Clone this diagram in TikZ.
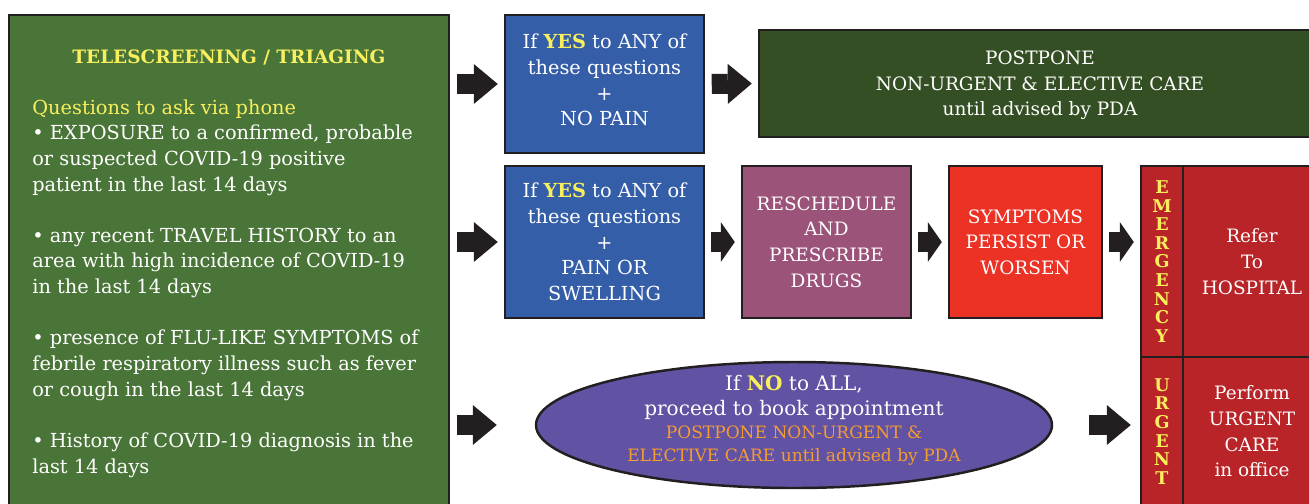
\documentclass[tikz,border=0pt]{standalone}
\usepackage{fontspec}
\setmainfont{DejaVu Serif}
\usepackage{xcolor}
\usepackage{tikz}
\usetikzlibrary{shapes,arrows,positioning,calc,arrows.meta}

\definecolor{screengreen}{HTML}{4A7538}
\definecolor{titleyellow}{HTML}{F8EF5E}
\definecolor{yesblue}{HTML}{355EA8}
\definecolor{postgreen}{HTML}{344F23}
\definecolor{reschpurple}{HTML}{9C5379}
\definecolor{persistred}{HTML}{EC3125}
\definecolor{caredred}{HTML}{B82427}
\definecolor{bookviolet}{HTML}{6252A3}
\definecolor{noteorange}{HTML}{F39C32}
\definecolor{linegray}{HTML}{231F20}

\tikzstyle{box} = [rectangle, draw=linegray, line width=1.4pt, text=white, align=center, inner sep=0pt]
\tikzstyle{bigarrow} = [draw=linegray, line width=0.4cm, shorten <=0.13cm, shorten >=0.12cm, -{Triangle[length=0.48cm, width=0.8cm, line width=0pt]}]
\tikzstyle{smallarrow} = [draw=linegray, line width=0.4cm, shorten <=0.12cm, shorten >=0.12cm, -{Triangle[length=0.28cm, width=0.8cm, line width=0pt]}]
\tikzstyle{vletters} = [font=\fontsize{10}{10.6}\selectfont\bfseries, text=titleyellow, align=center, inner sep=0pt]

\begin{document}
\begin{tikzpicture}[font=\fontsize{10.5}{14.6}\selectfont]
    \useasboundingbox (0,0) rectangle (26.18,-10.06);

    % Telescreening box
    \node[box, fill=screengreen, minimum width=8.8cm, minimum height=10.4cm] (screen) at (4.58,-5.5) {};
    \node[font=\fontsize{10.5}{14.6}\selectfont\bfseries, text=titleyellow] (title) at (4.58,-1.14) {TELESCREENING / TRIAGING};
    \node[anchor=north west, align=left, text=white, inner sep=0pt, font=\fontsize{11}{14.6}\selectfont] (questions) at (0.64,-1.98) {%
        \textcolor{titleyellow}{Questions to ask via phone}\\
        • EXPOSURE to a confirmed, probable\\
        or suspected COVID-19 positive\\
        patient in the last 14 days\\[14.6pt]
        • any recent TRAVEL HISTORY to an\\
        area with high incidence of COVID-19\\
        in the last 14 days\\[14.6pt]
        • presence of FLU-LIKE SYMPTOMS of\\
        febrile respiratory illness such as fever\\
        or cough in the last 14 days\\[14.6pt]
        • History of COVID-19 diagnosis in the\\
        last 14 days};

    % First row
    \node[box, fill=yesblue, minimum width=3.98cm, minimum height=2.76cm] (yes1) at (12.09,-1.68) {};
    \node[text=white, align=center, font=\fontsize{11}{14.6}\selectfont] at (12.09,-1.6)
        {If \textcolor{titleyellow}{\textbf{YES}} to ANY of\\these questions\\+\\NO PAIN};
    \node[box, fill=postgreen, minimum width=11.24cm, minimum height=2.14cm] (postpone) at (20.8,-1.67) {};
    \node[text=white, align=center] at (20.8,-1.71)
        {POSTPONE\\NON-URGENT \& ELECTIVE CARE\\until advised by PDA};

    % Second row
    \node[box, fill=yesblue, minimum width=3.98cm, minimum height=3.04cm, font=\fontsize{11}{14.6}\selectfont] (yes2) at (12.09,-4.84)
        {If \textcolor{titleyellow}{\textbf{YES}} to ANY of\\these questions\\+\\PAIN OR\\SWELLING};
    \node[box, fill=reschpurple, minimum width=3.38cm, minimum height=3.04cm] (resched) at (16.53,-4.84)
        {RESCHEDULE\\AND\\PRESCRIBE\\DRUGS};
    \node[box, fill=persistred, minimum width=3.06cm, minimum height=3.04cm] (persist) at (20.51,-4.84)
        {SYMPTOMS\\PERSIST OR\\WORSEN};

    % Emergency / urgent column
    \node[box, fill=caredred, minimum width=0.84cm, minimum height=3.82cm] (emerg) at (23.24,-5.23) {};
    \node[vletters] at (emerg) {E\\M\\E\\R\\G\\E\\N\\C\\Y};
    \node[box, fill=caredred, minimum width=2.76cm, minimum height=3.82cm] (refer) at (25.04,-5.23)
        {Refer\\To\\HOSPITAL};
    \node[box, fill=caredred, minimum width=0.84cm, minimum height=3.66cm] (urgent) at (23.24,-8.97) {};
    \node[vletters] at (23.24,-8.63) {U\\R\\G\\E\\N\\T};
    \node[box, fill=caredred, minimum width=2.76cm, minimum height=3.66cm] (perform) at (25.04,-8.97) {};
    \node[text=white, align=center] at (25.04,-8.63) {Perform\\URGENT\\CARE\\in office};

    % Third row
    \node[ellipse, draw=linegray, line width=1.4pt, fill=bookviolet, minimum width=10.32cm, minimum height=2.52cm, inner sep=0pt] (book) at (15.88,-8.5) {};
    \node[text=white, align=center, font=\fontsize{11.4}{14.6}\selectfont] at (15.88,-8.4) {If \textcolor{titleyellow}{\textbf{NO}} to ALL,\\proceed to book appointment\\[-1.5pt]
        {\fontsize{9.7}{12.5}\selectfont\color{noteorange}POSTPONE NON-URGENT \&}\\[-2pt]
        {\fontsize{9.7}{12.5}\selectfont\color{noteorange}ELECTIVE CARE until advised by PDA}};

    % Arrows
    \draw[bigarrow] (screen.east |- yes1.west) -- (yes1.west);
    \draw[bigarrow] (yes1.east) -- (postpone.west);
    \draw[bigarrow] (screen.east |- yes2.west) -- (yes2.west);
    \draw[smallarrow] (yes2.east) -- (resched.west);
    \draw[smallarrow] (resched.east) -- (persist.west);
    \draw[smallarrow] (persist.east) -- (persist.east -| emerg.west);
    \draw[bigarrow, shorten >=0.76cm] (screen.east |- book.west) -- (book.west);
    \draw[bigarrow, shorten <=0.72cm, shorten >=0.18cm] (book.east) -- (book.east -| urgent.west);
\end{tikzpicture}
\end{document}
